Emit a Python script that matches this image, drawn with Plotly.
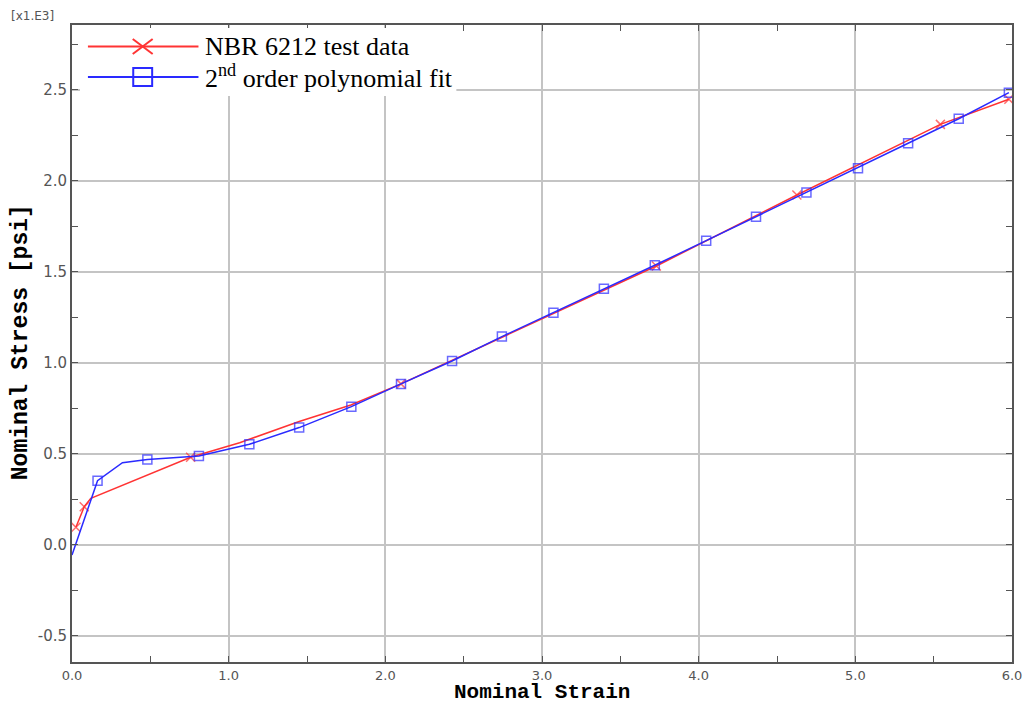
import plotly.graph_objects as go

# ---- data (stress in kpsi, i.e. x1.E3 psi) ----
test_strain = [0.025, 0.078, 0.12, 0.757, 1.07, 1.45, 1.78, 2.10, 3.73, 4.627, 5.543, 5.98]
test_stress = [0.097, 0.21, 0.256, 0.482, 0.562, 0.678, 0.769, 0.885, 1.533, 1.923, 2.311, 2.449]
test_marked = [0, 1, 3, 7, 8, 9, 10, 11]

fit_strain = [0.0, 0.163, 0.322, 0.481, 0.81, 1.132, 1.450, 1.783, 2.10, 2.426, 2.744,
              3.073, 3.395, 3.72, 4.048, 4.366, 4.688, 5.017, 5.337, 5.66, 5.98]
fit_stress = [-0.055, 0.353, 0.452, 0.469, 0.489, 0.553, 0.645, 0.760, 0.885, 1.011, 1.145,
              1.276, 1.408, 1.537, 1.672, 1.804, 1.936, 2.07, 2.207, 2.342, 2.485]
fit_unmarked = [0, 2]

x_ticks = [0, 1, 2, 3, 4, 5, 6]
x_tick_text = ["0.0", "1.0", "2.0", "3.0", "4.0", "5.0", "6.0"]
y_ticks = [-0.5, 0.0, 0.5, 1.0, 1.5, 2.0, 2.5]
y_tick_text = ["-0.5", "0.0", "0.5", "1.0", "1.5", "2.0", "2.5"]

series_names = ["NBR 6212 test data", "2<sup>nd</sup> order polynomial fit"]

W, H = 1034, 706
ML, MR, MT, MB = 72, 18, 25, 44
PW, PH = W - ML - MR, H - MT - MB

RED = "#ff3333"
BLUE = "#2a2aff"

def px_x(p):
    return (p - ML) / PW

def px_y(p):
    return (H - MB - p) / PH

fig = go.Figure()

fig.add_trace(go.Scatter(
    x=test_strain, y=test_stress, mode="lines+markers", name=series_names[0],
    line=dict(color=RED, width=1.5),
    marker=dict(symbol="x-thin", size=[9 if i in test_marked else 0 for i in range(len(test_strain))],
                line=dict(color=RED, width=1.5), color=RED),
    showlegend=False,
))
fig.add_trace(go.Scatter(
    x=fit_strain, y=fit_stress, mode="lines+markers", name=series_names[1],
    line=dict(color=BLUE, width=1.5),
    marker=dict(symbol="square-open", size=[0 if i in fit_unmarked else 9 for i in range(len(fit_strain))],
                line=dict(color=BLUE, width=1.5), color=BLUE),
    showlegend=False,
))

axis_common = dict(
    showgrid=True, gridcolor="#c4c4c4", gridwidth=2,
    showline=True, linecolor="#555555", linewidth=2, mirror="allticks",
    ticks="inside", ticklen=5, tickcolor="#555555",
    zeroline=False,
)

fig.update_xaxes(range=[0, 6], tickmode="array", tickvals=x_ticks, ticktext=x_tick_text,
                 tickfont=dict(family="DejaVu Sans", size=13, color="#555555"),
                 minor=dict(ticks="inside", dtick=0.5, tick0=0, ticklen=6, tickcolor="#555555", showgrid=False),
                 **axis_common)
fig.update_yaxes(range=[-0.643, 2.857], tickmode="array", tickvals=y_ticks, ticktext=y_tick_text,
                 tickfont=dict(family="DejaVu Sans", size=15, color="#555555"),
                 minor=dict(ticks="inside", dtick=0.25, tick0=0, ticklen=6, tickcolor="#555555", showgrid=False),
                 **axis_common)

shapes = []
annotations = []

# legend box (manual)
shapes.append(dict(type="rect", xref="paper", yref="paper",
                   x0=px_x(80), x1=px_x(458), y0=px_y(96), y1=px_y(28),
                   fillcolor="white", line=dict(width=0), layer="above"))
rows = [(46.5, RED), (77, BLUE)]
for i, (cy, col) in enumerate(rows):
    shapes.append(dict(type="line", xref="paper", yref="paper",
                       x0=px_x(88), x1=px_x(199), y0=px_y(cy), y1=px_y(cy),
                       line=dict(color=col, width=2), layer="above"))
    annotations.append(dict(text=series_names[i], xref="paper", yref="paper",
                            x=px_x(204), y=px_y(cy), xanchor="left", yanchor="middle",
                            showarrow=False,
                            font=dict(family="Liberation Serif", size=26, color="black")))
# X marker in legend
cx, cy = 143, 46.5
for dy in (-7.5, 7.5):
    shapes.append(dict(type="line", xref="paper", yref="paper",
                       x0=px_x(cx - 10), x1=px_x(cx + 10), y0=px_y(cy - dy), y1=px_y(cy + dy),
                       line=dict(color=RED, width=2), layer="above"))
# square marker in legend
cx, cy = 143, 77
shapes.append(dict(type="rect", xref="paper", yref="paper",
                   x0=px_x(cx - 9.5), x1=px_x(cx + 9.5), y0=px_y(cy + 9), y1=px_y(cy - 9),
                   fillcolor="rgba(0,0,0,0)", line=dict(color=BLUE, width=2), layer="above"))

# axis titles
annotations.append(dict(text="<b>Nominal Strain</b>", xref="paper", yref="paper",
                        x=px_x(544), y=px_y(705), xanchor="center", yanchor="bottom", showarrow=False,
                        borderpad=0,
                        font=dict(family="Liberation Mono", size=21, color="black")))
annotations.append(dict(text="<b>Nominal Stress [psi]</b>", xref="paper", yref="paper",
                        x=px_x(21), y=px_y(342), xanchor="center", yanchor="middle", showarrow=False,
                        textangle=-90,
                        font=dict(family="Liberation Mono", size=23, color="black")))
annotations.append(dict(text="[x1.E3]", xref="paper", yref="paper",
                        x=px_x(9), y=px_y(16), xanchor="left", yanchor="middle", showarrow=False,
                        font=dict(family="DejaVu Sans", size=12, color="#555555")))

fig.update_layout(
    width=W, height=H,
    margin=dict(l=ML, r=MR, t=MT, b=MB),
    paper_bgcolor="white", plot_bgcolor="white",
    shapes=shapes, annotations=annotations,
    showlegend=False,
)

fig.write_html("out.html")
